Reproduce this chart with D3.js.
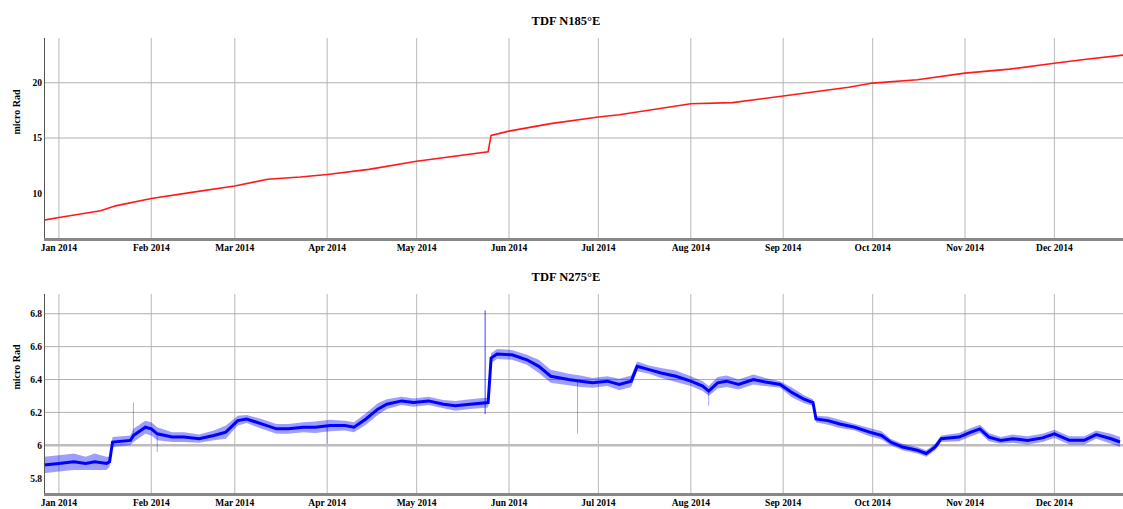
<!DOCTYPE html>
<html>
<head>
<meta charset="utf-8">
<script src="https://cdn.jsdelivr.net/npm/d3@7"></script>
<style>
  html, body { margin: 0; padding: 0; background: #fff; }
  svg text { font-family: "Liberation Serif", "DejaVu Serif", serif; font-weight: bold; fill: #000; }
</style>
</head>
<body>
<svg id="chart" width="1123" height="509"></svg>
<script>
// ---------- DATA ----------
const titles = ["TDF N185°E", "TDF N275°E"];
const yLabel = "micro Rad";

// Top series (N185°E)
const dates1 = ["2013-12-27","2014-01-01","2014-01-15","2014-01-20","2014-02-01","2014-02-14","2014-03-01","2014-03-12","2014-03-23","2014-04-01","2014-04-15","2014-05-01","2014-05-25","2014-05-26","2014-06-01","2014-06-15","2014-07-01","2014-07-08","2014-08-01","2014-08-15","2014-09-01","2014-09-23","2014-10-01","2014-10-16","2014-11-01","2014-11-16","2014-12-01","2014-12-11","2014-12-24"];
const values1 = [7.57,7.81,8.41,8.86,9.52,10.06,10.66,11.26,11.47,11.7,12.16,12.9,13.76,15.23,15.62,16.3,16.9,17.1,18.1,18.2,18.8,19.6,19.97,20.27,20.87,21.23,21.77,22.1,22.5];
const yTicks1 = [10, 15, 20];

// Bottom series (N275°E): centre value and half-width of daily oscillation
const dates2 = ["2013-12-27","2014-01-01","2014-01-06","2014-01-10","2014-01-13","2014-01-17","2014-01-18","2014-01-19","2014-01-25","2014-01-26","2014-01-30","2014-02-01","2014-02-03","2014-02-08","2014-02-12","2014-02-17","2014-02-22","2014-02-26","2014-03-02","2014-03-05","2014-03-10","2014-03-15","2014-03-19","2014-03-24","2014-03-28","2014-04-02","2014-04-07","2014-04-10","2014-04-14","2014-04-18","2014-04-21","2014-04-26","2014-04-30","2014-05-05","2014-05-10","2014-05-14","2014-05-19","2014-05-25","2014-05-26","2014-05-28","2014-06-02","2014-06-07","2014-06-11","2014-06-15","2014-06-21","2014-06-25","2014-06-29","2014-07-04","2014-07-08","2014-07-12","2014-07-14","2014-07-18","2014-07-22","2014-07-27","2014-08-01","2014-08-05","2014-08-07","2014-08-10","2014-08-13","2014-08-17","2014-08-22","2014-08-26","2014-08-31","2014-09-04","2014-09-08","2014-09-11","2014-09-12","2014-09-16","2014-09-20","2014-09-25","2014-09-30","2014-10-04","2014-10-07","2014-10-11","2014-10-16","2014-10-19","2014-10-22","2014-10-24","2014-10-30","2014-11-03","2014-11-06","2014-11-09","2014-11-13","2014-11-17","2014-11-22","2014-11-27","2014-12-01","2014-12-06","2014-12-11","2014-12-15","2014-12-20","2014-12-23"];
const values2 = [5.88,5.89,5.90,5.89,5.90,5.89,5.90,6.02,6.03,6.06,6.11,6.10,6.07,6.05,6.05,6.04,6.06,6.08,6.15,6.16,6.13,6.10,6.10,6.11,6.11,6.12,6.12,6.11,6.16,6.22,6.25,6.27,6.26,6.27,6.25,6.24,6.25,6.26,6.53,6.555,6.55,6.52,6.48,6.42,6.40,6.39,6.38,6.39,6.37,6.39,6.48,6.46,6.44,6.42,6.39,6.36,6.33,6.38,6.39,6.37,6.40,6.385,6.37,6.32,6.28,6.26,6.16,6.15,6.13,6.11,6.08,6.06,6.02,5.99,5.97,5.95,5.99,6.04,6.05,6.08,6.10,6.05,6.03,6.04,6.03,6.045,6.07,6.03,6.03,6.065,6.04,6.02];
const spread2 = [0.05,0.05,0.05,0.04,0.05,0.04,0.03,0.03,0.03,0.04,0.04,0.04,0.04,0.03,0.03,0.025,0.03,0.04,0.03,0.025,0.03,0.03,0.03,0.03,0.035,0.035,0.03,0.03,0.035,0.035,0.03,0.025,0.025,0.025,0.025,0.03,0.03,0.03,0.03,0.03,0.03,0.03,0.04,0.04,0.035,0.035,0.03,0.03,0.035,0.035,0.03,0.025,0.03,0.035,0.03,0.03,0.03,0.035,0.035,0.03,0.03,0.025,0.02,0.03,0.025,0.02,0.02,0.025,0.025,0.02,0.025,0.025,0.02,0.02,0.02,0.02,0.02,0.02,0.025,0.025,0.025,0.025,0.02,0.025,0.025,0.025,0.025,0.025,0.025,0.025,0.03,0.03];
// Isolated spikes: date, low, high
const spikeDates2 = ["2014-01-26","2014-02-03","2014-04-01","2014-05-24","2014-06-24","2014-08-07"];
const spikeLow2 = [6.04,5.96,6.01,6.19,6.07,6.24];
const spikeHigh2 = [6.26,6.07,6.12,6.82,6.39,6.33];
const yTicks2 = [5.8, 6, 6.2, 6.4, 6.6, 6.8];

const xDomain = ["2013-12-27", "2014-12-24"];

// ---------- DRAW ----------
const parse = d3.timeParse("%Y-%m-%d");
const svg = d3.select("#chart");
const left = 44, right = 1123;

const x = d3.scaleTime().domain(xDomain.map(parse)).range([left, right]);
const fmt = d3.timeFormat("%b %Y");
const monthTicks = d3.timeMonth.range(parse("2014-01-01"), parse("2014-12-02"));

function panel(cfg) {
  const g = svg.append("g");
  const y = d3.scaleLinear().domain(cfg.yDomain).range([cfg.bottom, cfg.top]);

  // vertical grid
  g.append("g").selectAll("line").data(monthTicks).join("line")
    .attr("x1", d => x(d)).attr("x2", d => x(d))
    .attr("y1", cfg.top).attr("y2", cfg.bottom)
    .attr("stroke", "#c4c4c4").attr("stroke-width", 1.2);

  // horizontal grid (not for lowest tick)
  g.append("g").selectAll("line").data(cfg.ticks.slice(1)).join("line")
    .attr("x1", left).attr("x2", right)
    .attr("y1", d => y(d)).attr("y2", d => y(d))
    .attr("stroke", d => d === cfg.emph ? "#bdbdbd" : "#b0b0b0")
    .attr("stroke-width", d => d === cfg.emph ? 2.5 : 1);

  // title
  svg.append("text").attr("x", 566).attr("y", cfg.top - 13)
    .attr("text-anchor", "middle").attr("font-size", 12.5).text(cfg.title);

  // y label
  svg.append("text")
    .attr("transform", `translate(20,${cfg.labelY}) rotate(-90)`)
    .attr("text-anchor", "middle").attr("font-size", 10).text(yLabel);

  // y ticks
  g.append("g").selectAll("text").data(cfg.ticks).join("text")
    .attr("x", left - 2).attr("y", d => y(d)).attr("dy", "0.35em")
    .attr("text-anchor", "end").attr("font-size", 9.5)
    .text(d => cfg.tickFmt(d));

  // x tick labels
  g.append("g").selectAll("text").data(monthTicks).join("text")
    .attr("x", d => x(d)).attr("y", cfg.bottom + 13)
    .attr("text-anchor", "middle").attr("font-size", 9.5)
    .text(d => fmt(d));

  // data
  cfg.draw(g, y);

  // axes lines
  g.append("line").attr("x1", left + 0.5).attr("x2", left + 0.5)
    .attr("y1", cfg.top).attr("y2", cfg.bottom + 1)
    .attr("stroke", "#555").attr("stroke-width", 1);
  g.append("line").attr("x1", left).attr("x2", right)
    .attr("y1", cfg.bottom + 1.5).attr("y2", cfg.bottom + 1.5)
    .attr("stroke", "#888").attr("stroke-width", 3);
}

// Top panel
panel({
  title: titles[0], top: 38, bottom: 238, labelY: 112,
  yDomain: [5.95, 24.05], ticks: yTicks1, emph: null,
  tickFmt: d3.format("d"),
  draw: (g, y) => {
    const pts = dates1.map((d, i) => [parse(d), values1[i]]);
    g.append("path").datum(pts)
      .attr("fill", "none").attr("stroke", "#ff1a1a").attr("stroke-width", 1.6)
      .attr("d", d3.line().x(d => x(d[0])).y(d => y(d[1])));
  }
});

// Bottom panel
panel({
  title: titles[1], top: 294, bottom: 493, labelY: 367,
  yDomain: [5.71, 6.92], ticks: yTicks2, emph: 6,
  tickFmt: d => d3.format("")(d),
  draw: (g, y) => {
    const pts = dates2.map((d, i) => ({ t: parse(d), v: values2[i], s: spread2[i] }));
    g.append("path").datum(pts)
      .attr("fill", "#0000ff").attr("fill-opacity", 0.38)
      .attr("d", d3.area().x(d => x(d.t)).y0(d => y(d.v - d.s)).y1(d => y(d.v + d.s)));
    g.append("g").selectAll("line").data(spikeDates2).join("line")
      .attr("x1", d => x(parse(d))).attr("x2", d => x(parse(d)))
      .attr("y1", (d, i) => y(spikeLow2[i])).attr("y2", (d, i) => y(spikeHigh2[i]))
      .attr("stroke", "#0000ff").attr("stroke-opacity", (d, i) => i === 3 ? 0.75 : 0.35)
      .attr("stroke-width", 1);
    g.append("path").datum(pts)
      .attr("fill", "none").attr("stroke", "#0000ff").attr("stroke-width", 3)
      .attr("d", d3.line().x(d => x(d.t)).y(d => y(d.v)));
  }
});
</script>
</body>
</html>
